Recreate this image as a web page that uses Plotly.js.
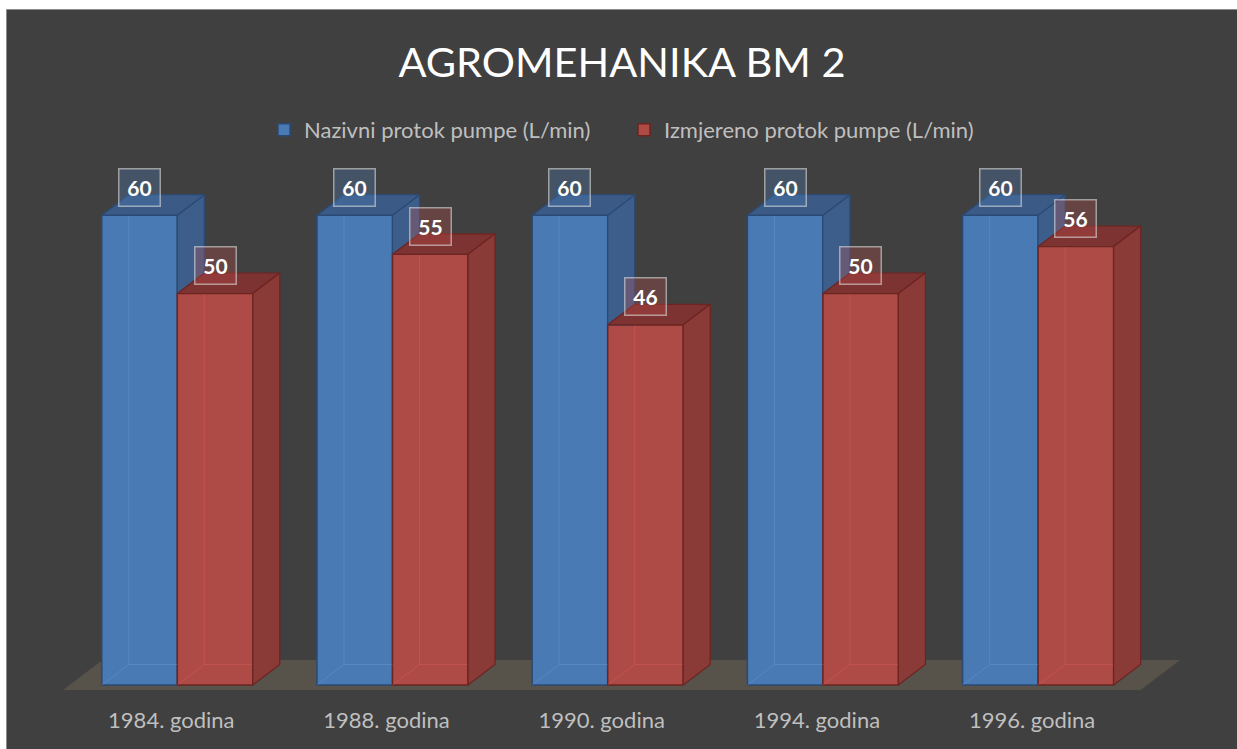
<!DOCTYPE html>
<html><head><meta charset="utf-8">
<script src="https://cdn.plot.ly/plotly-3.0.1.min.js"></script>
<style>html,body{margin:0;padding:0;background:#fff;} #chart{width:1237px;height:749px;}</style>
</head><body><div id="chart"></div>
<script>
// ---- data ----
const categories = ['1984. godina','1988. godina','1990. godina','1994. godina','1996. godina'];
const nazivni = [60, 60, 60, 60, 60];
const izmjereno = [50, 55, 46, 50, 56];
const seriesNames = ['Nazivni protok pumpe (L/min)', 'Izmjereno protok pumpe (L/min)'];
const chartTitle = 'AGROMEHANIKA BM 2';

// ---- geometry / style ----
const W = 1237, H = 749, mT = 150, mB = 50;
const pxPerUnit = 7.83, zeroPx = 685;
const yMin = -(H - mB - zeroPx) / pxPerUnit;
const yMax = (zeroPx - mT) / pxPerUnit;
const catPx0 = 177.3, catStep = 215.2;
const xMin = -catPx0 / catStep, xMax = (W - catPx0) / catStep;
const bw = 75.5 / catStep;
const dX = 27 / catStep, dY = 20.5 / pxPerUnit;

const idx = categories.map((_, i) => i);
const C = {
  blueFront: '#4a7ab3', blueEdge: '#2a4a75', blueSide: '#3d5e8a', blueTop: '#3b5b86',
  redFront: '#ae4b47', redEdge: '#6c2421', redSide: '#8a3a37', redTop: '#7c3331',
  floor: '#57534a', bg: '#404040', text: '#bfbfbf'
};
const FONT = 'Lato, sans-serif';

function polys(fn) {
  const xs = [], ys = [];
  idx.forEach(i => {
    const pts = fn(i);
    pts.forEach(p => { xs.push(p[0]); ys.push(p[1]); });
    xs.push(pts[0][0]); ys.push(pts[0][1]);
    xs.push(null); ys.push(null);
  });
  return {xs, ys};
}
function faceTrace(fn, fill, edge) {
  const p = polys(fn);
  return {type: 'scatter', mode: 'lines', x: p.xs, y: p.ys, fill: 'toself',
    fillcolor: fill, line: {color: edge, width: 1.2}, hoverinfo: 'skip', showlegend: false};
}
function lineTrace(fn, color) {
  const xs = [], ys = [];
  idx.forEach(i => { fn(i).forEach(seg => { seg.forEach(p => { xs.push(p[0]); ys.push(p[1]); }); xs.push(null); ys.push(null); }); });
  return {type: 'scatter', mode: 'lines', x: xs, y: ys, line: {color: color, width: 1}, hoverinfo: 'skip', showlegend: false};
}

const traces = [
  {type: 'bar', name: seriesNames[0], x: idx, y: nazivni, width: bw, offset: -bw,
   marker: {color: C.blueFront, line: {color: C.blueEdge, width: 1.5}}, hoverinfo: 'skip'},
  {type: 'bar', name: seriesNames[1], x: idx, y: izmjereno, width: bw, offset: 0,
   marker: {color: C.redFront, line: {color: C.redEdge, width: 1.5}}, hoverinfo: 'skip'},
  // faint back edges seen through the front faces
  lineTrace(i => {
    const v = nazivni[i], x0 = i - bw;
    return [[[x0, 0], [x0 + dX, dY], [i, dY]], [[x0 + dX, dY], [x0 + dX, v]]];
  }, 'rgba(110,160,225,0.35)'),
  lineTrace(i => {
    const r = izmjereno[i];
    return [[[i, 0], [i + dX, dY], [i + bw, dY]], [[i + dX, dY], [i + dX, r]]];
  }, 'rgba(230,100,95,0.35)'),
  // blue side (visible part above red)
  faceTrace(i => {
    const v = nazivni[i], r = izmjereno[i];
    return [[i, r], [i + dX, r], [i + dX, v + dY], [i, v]];
  }, C.blueSide, C.blueEdge),
  // blue top
  faceTrace(i => {
    const v = nazivni[i];
    return [[i - bw, v], [i, v], [i + dX, v + dY], [i - bw + dX, v + dY]];
  }, C.blueTop, C.blueEdge),
  // red top
  faceTrace(i => {
    const r = izmjereno[i];
    return [[i, r], [i + bw, r], [i + bw + dX, r + dY], [i + dX, r + dY]];
  }, C.redTop, C.redEdge),
  // red side
  faceTrace(i => {
    const r = izmjereno[i];
    return [[i + bw, 0], [i + bw + dX, dY], [i + bw + dX, r + dY], [i + bw, r]];
  }, C.redSide, C.redEdge)
];

const annotations = [];
function label(x, v, bg) {
  return {x: x, y: v, xref: 'x', yref: 'y', text: '<b>' + v + '</b>',
    showarrow: false, xanchor: 'center', yanchor: 'middle', yshift: 28,
    width: 40, height: 36, borderpad: 0, borderwidth: 1.5, bordercolor: 'rgba(220,220,220,0.6)',
    bgcolor: bg, font: {family: FONT, size: 21, color: '#ffffff'}};
}
idx.forEach(i => {
  annotations.push(label(i - bw / 2, nazivni[i], 'rgba(79,129,189,0.3)'));
  annotations.push(label(i + bw / 2, izmjereno[i], 'rgba(192,80,77,0.3)'));
});

// floor plane
const n = categories.length;
const fL = -bw - 38.8 / catStep, fR = (n - 1) + bw + 27 / catStep;
const fY0 = -5 / pxPerUnit, fY1 = 25 / pxPerUnit, fDx = (30 * 27 / 20.5) / catStep;
const floorPath = `M${fL},${fY0} L${fR},${fY0} L${fR + fDx},${fY1} L${fL + fDx},${fY1} Z`;

const plotH = H - mT - mB;
const pyToPaper = py => (H - mB - py) / plotH;

const layout = {
  width: W, height: H,
  margin: {l: 0, r: 0, t: mT, b: mB, pad: 0},
  paper_bgcolor: '#ffffff', plot_bgcolor: 'rgba(0,0,0,0)',
  font: {family: FONT, color: C.text},
  title: {text: chartTitle, x: 622 / W, xanchor: 'center', y: 1 - 62 / H, yanchor: 'middle',
    font: {family: FONT, size: 41.5, color: '#ffffff'}},
  barmode: 'overlay',
  showlegend: true,
  legend: {orientation: 'h', x: 624 / W, xanchor: 'center', y: pyToPaper(130), yanchor: 'middle',
    entrywidth: 315, entrywidthmode: 'pixels',
    font: {family: FONT, size: 22, color: C.text}, bgcolor: 'rgba(0,0,0,0)',
    traceorder: 'normal', itemclick: false},
  xaxis: {range: [xMin, xMax], tickvals: idx, ticktext: categories, showgrid: false, zeroline: false,
    showline: false, ticks: '', automargin: false, fixedrange: true, ticklabelshift: -6, ticklabelstandoff: 6,
    tickfont: {family: FONT, size: 22, color: C.text}},
  yaxis: {range: [yMin, yMax], showgrid: false, zeroline: false, showline: false, showticklabels: false,
    ticks: '', automargin: false, fixedrange: true},
  shapes: [
    {type: 'rect', xref: 'paper', yref: 'paper', layer: 'below',
     x0: 6.5 / W, x1: 1.01, y0: pyToPaper(760), y1: pyToPaper(9.5),
     fillcolor: C.bg, line: {color: '#8c8c8c', width: 1}},
    {type: 'path', xref: 'x', yref: 'y', layer: 'below', path: floorPath,
     fillcolor: C.floor, line: {width: 0}}
  ],
  annotations: annotations
};

Plotly.newPlot('chart', traces, layout, {displayModeBar: false, staticPlot: true});
</script>
</body></html>
